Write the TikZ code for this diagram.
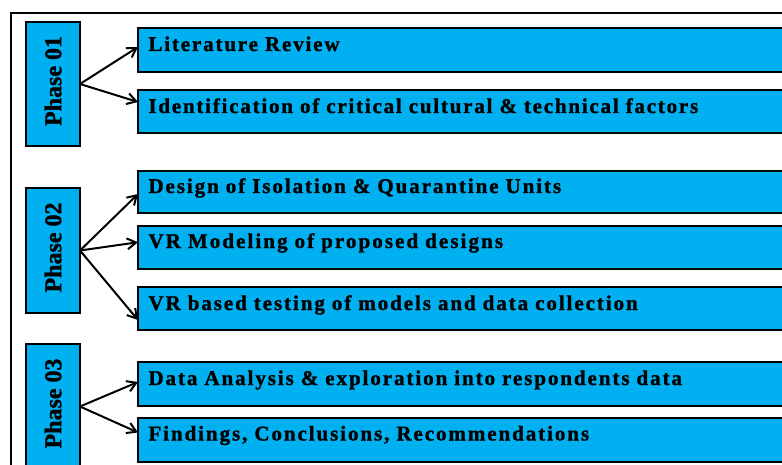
\documentclass[tikz,border=0pt]{standalone}
\usepackage{fontspec}
\usepackage{graphicx}
\setmainfont{Liberation Serif}
% row labels: bold serif with a little tracking
\newcommand{\rowface}[1]{\fontspec[LetterSpace=#1,FakeBold=1.2]{Liberation Serif}}
\newfontfamily\phasefont[FakeBold=1.2]{Liberation Serif}
\usetikzlibrary{arrows.meta,calc}
\definecolor{stageblue}{HTML}{00B0F0}

\tikzset{
  frame/.style={draw=black, line width=2pt},
  phasebox/.style={draw=black, line width=2pt, fill=stageblue, anchor=north west,
    minimum width=54pt, inner sep=0pt, outer sep=0pt, text depth=6pt,
    font=\phasefont\bfseries\fontsize{24}{24}\selectfont},
  rowbox/.style={draw=black, line width=2pt, fill=stageblue, anchor=north west,
    text width=641pt, align=left, inner xsep=10.5pt, inner ysep=0pt, outer sep=0pt,
    text height=23pt, font=\rowface{#1}\bfseries\fontsize{21}{24}\selectfont},
  rowbox/.default=9.2,
  link/.style={line width=2pt, -{Straight Barb[length=9pt,width=11pt]}},
}

\newcommand{\phaselabel}[1]{\rotatebox{90}{#1}\hspace{10pt}}

\begin{document}
\begin{tikzpicture}[x=1pt, y=-1pt]
  \useasboundingbox (0,0) rectangle (782,465);
  \clip (0,0) rectangle (782,465);

  % surrounding frame
  \draw[frame] (11,13) rectangle (800,490);

  % phase boxes
  \node[phasebox, minimum height=124pt] (p1) at (26,22) {\phaselabel{Phase 01}};
  \node[phasebox, minimum height=125pt] (p2) at (26,188) {\phaselabel{Phase 02}};
  \node[phasebox, minimum height=125pt] (p3) at (26,344) {\phaselabel{Phase 03}};

  % activity boxes
  \node[rowbox=8.8, text depth=21pt] (lit) at (138,28) {Literature Review};
  \node[rowbox=8.5, text depth=20pt] (ident) at (138,90) {Identification of critical cultural \& technical factors};
  \node[rowbox, text depth=20pt, text height=22pt] (design) at (138,171) {Design of Isolation \& Quarantine Units};
  \node[rowbox=9.9, text depth=21.5pt, text height=22pt] (vrmod) at (138,226) {VR Modeling of proposed designs};
  \node[rowbox, text depth=20pt] (vrtest) at (138,287) {VR based testing of models and data collection};
  \node[rowbox, text depth=21pt] (data) at (138,362) {Data Analysis \& exploration into respondents data};
  \node[rowbox, text depth=21pt] (find) at (138,417.5) {Findings, Conclusions, Recommendations};

  % connectors
  \draw[link] (p1.east) -- ($(lit.west)+(0,-3)$);
  \draw[link] (p1.east) -- ($(ident.west)+(0,-9.5)$);
  \draw[link] (p2.east) -- ($(design.west)+(0,2)$);
  \draw[link] (p2.east) -- ($(vrmod.west)+(0,-5.5)$);
  \draw[link] (p2.east) -- ($(vrtest.west)+(0,11.5)$);
  \draw[link] (p3.east) -- ($(data.west)+(0,-2)$);
  \draw[link] (p3.east) -- ($(find.west)+(0,-7)$);
\end{tikzpicture}
\end{document}
